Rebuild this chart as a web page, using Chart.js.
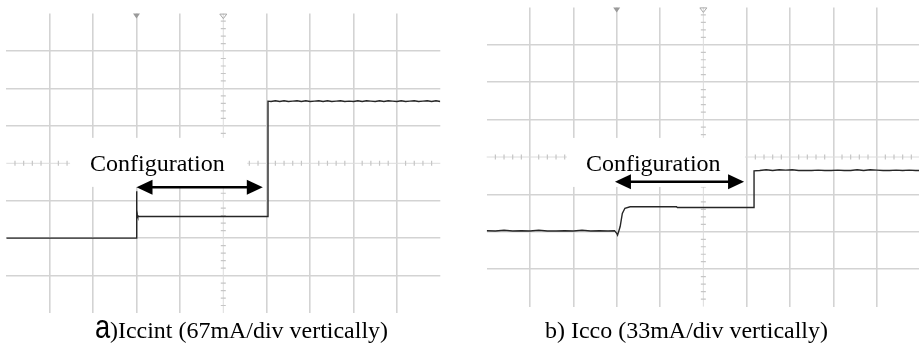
<!DOCTYPE html>
<html>
<head>
<meta charset="utf-8">
<script src="https://cdn.jsdelivr.net/npm/chart.js@4.4.1/dist/chart.umd.min.js"></script>
<style>
  html, body { margin: 0; padding: 0; background: #fff; }
  #wrap { position: relative; width: 919px; height: 345px; overflow: hidden; }
  #chartA { position: absolute; left: 0; top: 0; }
  #chartB { position: absolute; left: 460px; top: 0; }
</style>
</head>
<body>
<div id="wrap">
  <canvas id="chartA" width="460" height="345"></canvas>
  <canvas id="chartB" width="460" height="345"></canvas>
</div>
<script>
// scope traces, in screen divisions (x: time div, y: current div)
var iccintTime = [-5.0, -2.0, -2.0, -1.99, -1.98, -1.97, 1.03, 1.03,
  1.1, 1.2, 1.3, 1.4, 1.5, 1.6, 1.7, 1.8, 1.9, 2.0,
  2.1, 2.2, 2.3, 2.4, 2.5, 2.6, 2.7, 2.8, 2.9, 3.0,
  3.1, 3.2, 3.3, 3.4, 3.5, 3.6, 3.7, 3.8, 3.9, 4.0,
  4.1, 4.2, 4.3, 4.4, 4.5, 4.6, 4.7, 4.8, 4.9, 5.0];
var iccintDiv = [-2.0, -2.0, -0.75, -1.25, -1.38, -1.42, -1.42, 1.66,
  1.65, 1.67, 1.65, 1.67, 1.65, 1.66, 1.67, 1.65, 1.67, 1.65,
  1.66, 1.67, 1.65, 1.67, 1.65, 1.66, 1.67, 1.65, 1.66, 1.65,
  1.67, 1.65, 1.67, 1.66, 1.65, 1.67, 1.65, 1.67, 1.66, 1.65,
  1.67, 1.65, 1.66, 1.67, 1.65, 1.66, 1.67, 1.65, 1.67, 1.65];

var iccoTime = [-5.0, -4.8, -4.6, -4.4, -4.2, -4.0, -3.8, -3.6, -3.4, -3.2,
  -3.0, -2.8, -2.6, -2.4, -2.2, -2.05, -2.0, -1.98, -1.94, -1.92,
  -1.87, -1.81, -1.69, -1.5, -0.62, -0.6, 1.17, 1.17,
  1.3, 1.45, 1.6, 1.75, 1.9, 2.05, 2.2, 2.35, 2.5, 2.65,
  2.8, 2.95, 3.1, 3.25, 3.4, 3.55, 3.7, 3.85, 4.0, 4.15,
  4.3, 4.45, 4.6, 4.75, 4.9, 5.0];
var iccoDiv = [-1.97, -1.98, -1.96, -1.98, -1.97, -1.98, -1.96, -1.98, -1.98, -1.97,
  -1.98, -1.96, -1.98, -1.97, -1.98, -1.97, -2.04, -2.09, -1.94, -1.86,
  -1.51, -1.37, -1.33, -1.33, -1.33, -1.35, -1.35, -0.37,
  -0.36, -0.34, -0.36, -0.34, -0.35, -0.34, -0.36, -0.36, -0.36, -0.35,
  -0.36, -0.36, -0.35, -0.36, -0.36, -0.34, -0.36, -0.34, -0.35, -0.36,
  -0.36, -0.35, -0.36, -0.35, -0.36, -0.36];

var captionA = ['a', ')Iccint (67mA/div vertically)'];
var captionB = 'b) Icco (33mA/div vertically)';
var labelText = 'Configuration';

function points(xs, ys) {
  return xs.map(function(t, i) { return { x: t, y: ys[i] }; });
}

// outer frame and centre cross are not drawn as plain grid lines
function gridColor(edge) {
  return function(c) {
    var v = c.tick.value;
    if (v === 0 || Math.abs(v) === edge) return 'rgba(0,0,0,0)';
    return '#d3d3d3';
  };
}

// scope decorations: centre cross with minor ticks, trigger markers,
// label box with arrow and the caption under the screen
var scopeDecor = {
  id: 'scopeDecor',
  beforeDatasetsDraw: function(chart, args, opts) {
    var ctx = chart.ctx, xs = chart.scales.x, ys = chart.scales.y, a = chart.chartArea;
    var cx = xs.getPixelForValue(0), cy = ys.getPixelForValue(0);
    ctx.save();
    ctx.strokeStyle = '#dcdcdc';
    ctx.lineWidth = 1;
    ctx.beginPath();
    ctx.moveTo(a.left, cy); ctx.lineTo(a.right, cy);
    ctx.moveTo(cx, a.top); ctx.lineTo(cx, a.bottom);
    ctx.stroke();
    ctx.strokeStyle = '#c6c6c6';
    ctx.lineWidth = 1.2;
    ctx.beginPath();
    for (var i = -24; i <= 24; i++) {
      if (i % 5 === 0) continue;
      var px = xs.getPixelForValue(i / 5);
      ctx.moveTo(px, cy - 2.5); ctx.lineTo(px, cy + 2.5);
    }
    for (var j = -19; j <= 19; j++) {
      if (j % 5 === 0) continue;
      var py = ys.getPixelForValue(j / 5);
      ctx.moveTo(cx - 2.5, py); ctx.lineTo(cx + 2.5, py);
    }
    ctx.stroke();

    // trigger position (filled) and screen centre (open) markers
    var tx = xs.getPixelForValue(opts.trigger);
    ctx.fillStyle = '#9a9a9a';
    ctx.beginPath();
    ctx.moveTo(tx - 3.5, a.top); ctx.lineTo(tx + 3.5, a.top); ctx.lineTo(tx, a.top + 5);
    ctx.closePath(); ctx.fill();
    ctx.strokeStyle = '#a8a8a8';
    ctx.lineWidth = 1;
    ctx.beginPath();
    ctx.moveTo(cx - 3.5, a.top + 0.5); ctx.lineTo(cx + 3.5, a.top + 0.5); ctx.lineTo(cx, a.top + 5);
    ctx.closePath(); ctx.stroke();

    // white box behind the label
    var b = opts.box;
    var x0 = xs.getPixelForValue(b[0]), x1 = xs.getPixelForValue(b[1]);
    var y0 = ys.getPixelForValue(b[2]), y1 = ys.getPixelForValue(b[3]);
    ctx.fillStyle = '#ffffff';
    ctx.fillRect(x0, y0, x1 - x0, y1 - y0);
    ctx.restore();
  },
  afterDatasetsDraw: function(chart, args, opts) {
    var ctx = chart.ctx, xs = chart.scales.x, ys = chart.scales.y;
    ctx.save();
    ctx.fillStyle = '#000';
    ctx.textBaseline = 'alphabetic';
    ctx.textAlign = 'left';
    ctx.font = '24px "Liberation Serif", "Times New Roman", serif';
    ctx.fillText(labelText, xs.getPixelForValue(opts.label[0]), ys.getPixelForValue(opts.label[1]));

    // double-headed arrow spanning the configuration time
    var ax0 = xs.getPixelForValue(opts.arrow[0]), ax1 = xs.getPixelForValue(opts.arrow[1]);
    var ay = ys.getPixelForValue(opts.arrow[2]);
    var hl = 16, hh = 7.5;
    ctx.strokeStyle = '#000';
    ctx.lineWidth = 2.6;
    ctx.beginPath();
    ctx.moveTo(ax0 + hl - 2, ay); ctx.lineTo(ax1 - hl + 2, ay);
    ctx.stroke();
    ctx.beginPath();
    ctx.moveTo(ax0, ay); ctx.lineTo(ax0 + hl, ay - hh); ctx.lineTo(ax0 + hl, ay + hh);
    ctx.closePath(); ctx.fill();
    ctx.beginPath();
    ctx.moveTo(ax1, ay); ctx.lineTo(ax1 - hl, ay - hh); ctx.lineTo(ax1 - hl, ay + hh);
    ctx.closePath(); ctx.fill();
    ctx.restore();
  },
  afterDraw: function(chart, args, opts) {
    var ctx = chart.ctx, c = opts.caption;
    ctx.save();
    ctx.fillStyle = '#000';
    ctx.textBaseline = 'alphabetic';
    ctx.textAlign = 'left';
    if (c.prefix) {
      ctx.save();
      ctx.translate(c.prefixX, c.y);
      ctx.scale(1.05, 1.3);
      ctx.font = '26px "Liberation Sans", Arial, sans-serif';
      ctx.fillText(c.prefix, 0, 0);
      ctx.restore();
    }
    ctx.font = '24px "Liberation Serif", "Times New Roman", serif';
    ctx.fillText(c.text, c.x, c.y, c.width);
    ctx.restore();
  }
};

function scopeChart(id, xs, ys, pad, decor) {
  return new Chart(document.getElementById(id), {
    type: 'line',
    data: {
      datasets: [{
        data: points(xs, ys),
        borderColor: '#262626',
        borderWidth: 1.4,
        pointRadius: 0,
        tension: 0,
        fill: false
      }]
    },
    options: {
      responsive: false,
      animation: false,
      layout: { autoPadding: false, padding: pad },
      plugins: {
        legend: { display: false },
        tooltip: { enabled: false },
        scopeDecor: decor
      },
      scales: {
        x: {
          type: 'linear', min: -5, max: 5,
          ticks: { display: false, stepSize: 1 },
          grid: { color: gridColor(5), lineWidth: 1.6, drawTicks: false },
          border: { display: false }
        },
        y: {
          type: 'linear', min: -4, max: 4,
          ticks: { display: false, stepSize: 1 },
          grid: { color: gridColor(4), lineWidth: 1.6, drawTicks: false },
          border: { display: false }
        }
      }
    },
    plugins: [scopeDecor]
  });
}

scopeChart('chartA', iccintTime, iccintDiv,
  { left: 6.3, right: 19.7, top: 13.6, bottom: 32 },
  {
    trigger: -2,
    box: [-3.53, 0.55, 0.68, -0.63],
    label: [-3.07, -0.2],
    arrow: [-2.0, 0.91, -0.64],
    caption: { prefix: captionA[0], prefixX: 95, text: captionA[1], x: 110, y: 338, width: 278 }
  });

scopeChart('chartB', iccoTime, iccoDiv,
  { left: 26.7, right: 0, top: 7.4, bottom: 38.4 },
  {
    trigger: -2,
    box: [-3.15, 0.96, 0.51, -0.80],
    label: [-2.71, -0.37],
    arrow: [-2.04, 0.94, -0.66],
    caption: { text: captionB, x: 85, y: 338, width: 283 }
  });
</script>
</body>
</html>
